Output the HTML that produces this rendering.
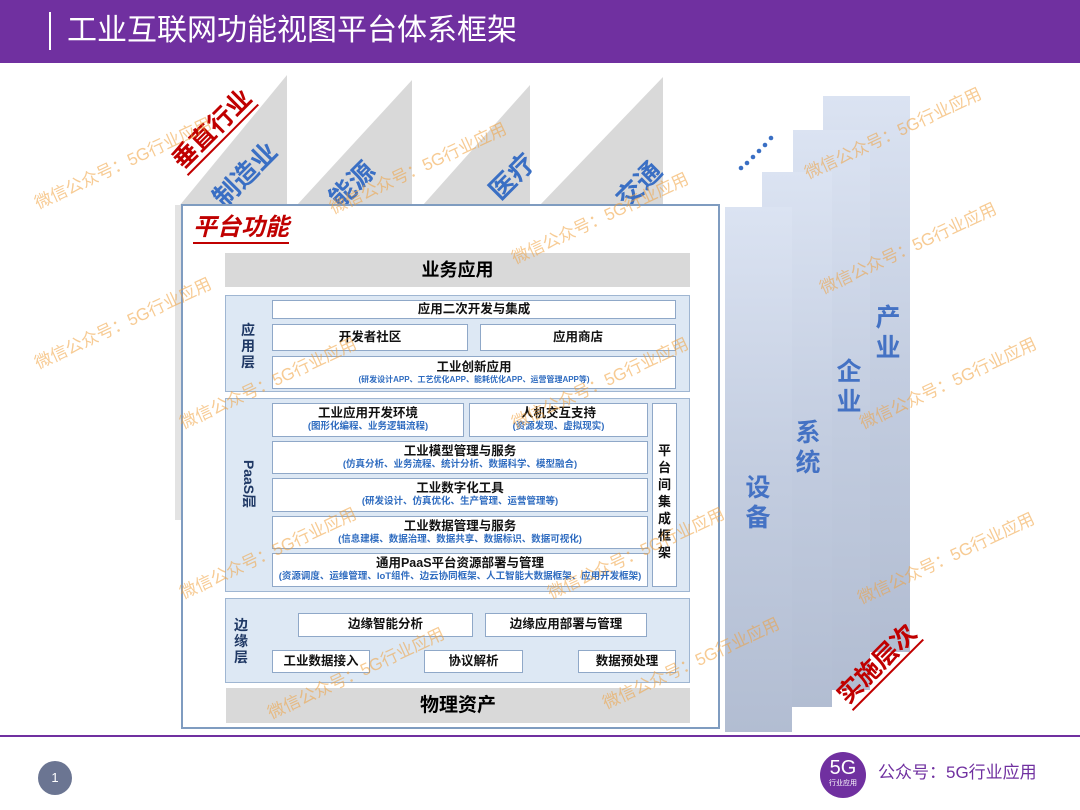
<!DOCTYPE html>
<html><head><meta charset="utf-8"><style>
*{margin:0;padding:0;box-sizing:border-box}
body{width:1080px;height:810px;position:relative;background:#fff;font-family:"Liberation Sans","Noto Sans CJK SC",sans-serif;overflow:hidden}
.a{position:absolute}
.bx{position:absolute;background:#fff;border:1.5px solid #8fa8c8;text-align:center;font-weight:bold;color:#111}
.t{font-size:12.5px;line-height:15px}
.s{font-size:9.5px;color:#2f6cc0;line-height:12px}
.lay{position:absolute;background:#dde8f4;border:1.5px solid #9fb6d2}
.vl{position:absolute;font-weight:bold;color:#1f3864;font-size:14px;line-height:16px;width:16px;text-align:center}
.ind{position:absolute;font-size:26px;font-weight:bold;color:#3a6fc4;transform:rotate(-45deg);white-space:nowrap}
.col{position:absolute;background:linear-gradient(180deg,#dbe3f2 0%,#c3cde0 50%,#b2bdd2 100%);}
.ct{position:absolute;font-size:25px;font-weight:bold;color:#4472c4;line-height:30px;width:30px;text-align:center}
.wm{position:absolute;font-size:17px;color:rgba(240,160,60,0.55);transform:rotate(-25deg);white-space:nowrap;transform-origin:left center}
</style></head><body>
<div class="a" style="left:0;top:0;width:1080px;height:63px;background:#7030a0"></div>
<div class="a" style="left:49px;top:12px;width:1.5px;height:38px;background:#fff"></div>
<div class="a" style="left:67px;top:13px;font-size:30px;color:#fff;line-height:36px">工业互联网功能视图平台体系框架</div>

<svg class="a" style="left:0;top:0" width="1080" height="810">
<polygon points="180,205 287,75 287,205" fill="#d9d9d9"/>
<polygon points="297,205 412,80 412,205" fill="#d9d9d9"/>
<polygon points="423,205 530,85 530,205" fill="#d9d9d9"/>
<polygon points="540,205 663,77 663,205" fill="#d9d9d9"/>
<polygon points="175,205 182,205 182,520 175,520" fill="#e3e3e3"/>
<g fill="#3a6fc4"><circle cx="741" cy="168" r="2.3"/><circle cx="747" cy="163" r="2.3"/><circle cx="753" cy="157" r="2.3"/><circle cx="759" cy="151" r="2.3"/><circle cx="765" cy="145" r="2.3"/><circle cx="771" cy="138" r="2.3"/></g>
</svg>
<div class="ind" style="left:205px;top:155px">制造业</div>
<div class="ind" style="left:325px;top:165px">能源</div>
<div class="ind" style="left:485px;top:157px">医疗</div>
<div class="ind" style="left:612px;top:165px">交通</div>
<div class="a" style="left:163px;top:115px;font-size:25px;font-weight:bold;color:#c00000;transform:rotate(-45deg);white-space:nowrap;border-bottom:2px solid #c00000;line-height:28px">垂直行业</div>

<div class="col" style="left:823px;top:96px;width:87px;height:556px"></div>
<div class="col" style="left:793px;top:130px;width:77px;height:560px"></div>
<div class="col" style="left:762px;top:172px;width:70px;height:535px"></div>
<div class="col" style="left:725px;top:207px;width:67px;height:525px"></div>
<div class="ct" style="left:873px;top:303px">产<br>业</div>
<div class="ct" style="left:834px;top:357px">企<br>业</div>
<div class="ct" style="left:793px;top:418px">系<br>统</div>
<div class="ct" style="left:743px;top:473px">设<br>备</div>
<div class="a" style="left:828px;top:650px;font-size:25px;font-weight:bold;color:#c00000;transform:rotate(-45deg);white-space:nowrap;border-bottom:2px solid #c00000;line-height:28px">实施层次</div>

<div class="a" style="left:181px;top:204px;width:539px;height:525px;border:2px solid #7f9cc0;background:#fff"></div>
<div class="a" style="left:193px;top:214px;font-size:24px;font-weight:bold;font-style:italic;color:#c00000;border-bottom:2px solid #c00000;line-height:28px">平台功能</div>
<div class="a" style="left:225px;top:253px;width:465px;height:34px;background:#d9d9d9;text-align:center;font-size:18px;font-weight:bold;line-height:34px">业务应用</div>

<div class="lay" style="left:225px;top:295px;width:465px;height:97px"></div>
<div class="vl" style="left:240px;top:322px">应<br>用<br>层</div>
<div class="bx t" style="left:272px;top:300px;width:404px;height:19px;line-height:16px">应用二次开发与集成</div>
<div class="bx t" style="left:272px;top:324px;width:196px;height:27px;line-height:24px">开发者社区</div>
<div class="bx t" style="left:480px;top:324px;width:196px;height:27px;line-height:24px">应用商店</div>
<div class="bx" style="left:272px;top:356px;width:404px;height:33px"><div class="t" style="margin-top:3px">工业创新应用</div><div class="s" style="font-size:8px;line-height:10px">(研发设计APP、工艺优化APP、能耗优化APP、运营管理APP等)</div></div>

<div class="lay" style="left:225px;top:398px;width:465px;height:194px"></div>
<div class="a" style="left:224px;top:474px;transform:rotate(90deg);font-weight:bold;color:#1f3864;font-size:14px;width:50px;text-align:center">PaaS层</div>
<div class="bx" style="left:272px;top:403px;width:192px;height:34px"><div class="t" style="margin-top:2px">工业应用开发环境</div><div class="s">(图形化编程、业务逻辑流程)</div></div>
<div class="bx" style="left:469px;top:403px;width:179px;height:34px"><div class="t" style="margin-top:2px">人机交互支持</div><div class="s">(资源发现、虚拟现实)</div></div>
<div class="bx" style="left:652px;top:403px;width:25px;height:184px;font-size:13px;line-height:17px;padding-top:38px">平<br>台<br>间<br>集<br>成<br>框<br>架</div>
<div class="bx" style="left:272px;top:441px;width:376px;height:33px"><div class="t" style="margin-top:2px">工业模型管理与服务</div><div class="s">(仿真分析、业务流程、统计分析、数据科学、模型融合)</div></div>
<div class="bx" style="left:272px;top:478px;width:376px;height:34px"><div class="t" style="margin-top:2px">工业数字化工具</div><div class="s">(研发设计、仿真优化、生产管理、运营管理等)</div></div>
<div class="bx" style="left:272px;top:516px;width:376px;height:33px"><div class="t" style="margin-top:2px">工业数据管理与服务</div><div class="s">(信息建模、数据治理、数据共享、数据标识、数据可视化)</div></div>
<div class="bx" style="left:272px;top:553px;width:376px;height:34px"><div class="t" style="margin-top:2px">通用PaaS平台资源部署与管理</div><div class="s">(资源调度、运维管理、IoT组件、边云协同框架、人工智能大数据框架、应用开发框架)</div></div>

<div class="lay" style="left:225px;top:598px;width:465px;height:85px"></div>
<div class="vl" style="left:233px;top:617px">边<br>缘<br>层</div>
<div class="bx t" style="left:298px;top:613px;width:175px;height:24px;line-height:21px">边缘智能分析</div>
<div class="bx t" style="left:485px;top:613px;width:162px;height:24px;line-height:21px">边缘应用部署与管理</div>
<div class="bx t" style="left:272px;top:650px;width:98px;height:23px;line-height:20px">工业数据接入</div>
<div class="bx t" style="left:424px;top:650px;width:99px;height:23px;line-height:20px">协议解析</div>
<div class="bx t" style="left:578px;top:650px;width:98px;height:23px;line-height:20px">数据预处理</div>
<div class="a" style="left:226px;top:688px;width:464px;height:35px;background:#d9d9d9;text-align:center;font-size:19px;font-weight:bold;line-height:35px">物理资产</div>

<div class="wm" style="left:35px;top:190px">微信公众号：5G行业应用</div>
<div class="wm" style="left:330px;top:195px">微信公众号：5G行业应用</div>
<div class="wm" style="left:512px;top:245px">微信公众号：5G行业应用</div>
<div class="wm" style="left:805px;top:160px">微信公众号：5G行业应用</div>
<div class="wm" style="left:820px;top:275px">微信公众号：5G行业应用</div>
<div class="wm" style="left:35px;top:350px">微信公众号：5G行业应用</div>
<div class="wm" style="left:180px;top:410px">微信公众号：5G行业应用</div>
<div class="wm" style="left:512px;top:410px">微信公众号：5G行业应用</div>
<div class="wm" style="left:860px;top:410px">微信公众号：5G行业应用</div>
<div class="wm" style="left:180px;top:580px">微信公众号：5G行业应用</div>
<div class="wm" style="left:548px;top:580px">微信公众号：5G行业应用</div>
<div class="wm" style="left:858px;top:585px">微信公众号：5G行业应用</div>
<div class="wm" style="left:268px;top:700px">微信公众号：5G行业应用</div>
<div class="wm" style="left:603px;top:690px">微信公众号：5G行业应用</div>

<div class="a" style="left:0;top:735px;width:1080px;height:2px;background:#7030a0"></div>
<div class="a" style="left:38px;top:761px;width:34px;height:34px;border-radius:50%;background:#6b7592;color:#fff;font-size:13px;text-align:center;line-height:34px">1</div>
<div class="a" style="left:820px;top:752px;width:46px;height:46px;border-radius:50%;background:#7030a0;color:#fff;text-align:center"><div style="font-size:20px;line-height:22px;margin-top:5px">5G</div><div style="font-size:7px;line-height:9px">行业应用</div></div>
<div class="a" style="left:878px;top:762px;font-size:17px;color:#7030a0;line-height:22px">公众号：5G行业应用</div>
</body></html>
